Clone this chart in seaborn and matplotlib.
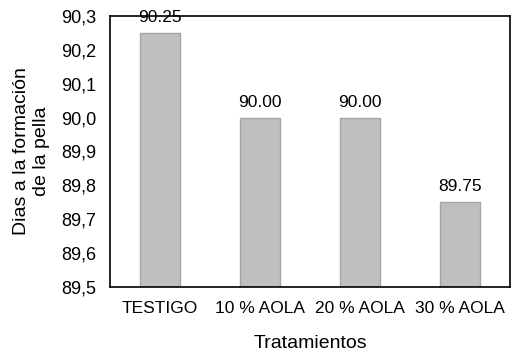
import seaborn as sns
import matplotlib.pyplot as plt
from matplotlib.ticker import FuncFormatter

tratamientos = ['TESTIGO', '10 % AOLA', '20 % AOLA', '30 % AOLA']
dias = [90.25, 90.00, 90.00, 89.75]
etiquetas = ['90.25', '90.00', '90.00', '89.75']

sns.set_style('white')
plt.rcParams['font.family'] = ['Liberation Sans', 'DejaVu Sans']
plt.rcParams['text.color'] = 'black'

fig = plt.figure(figsize=(5.23, 3.55), dpi=100)
ax = fig.add_axes([110 / 523, 1 - 287 / 355, 400 / 523, 271 / 355])

sns.barplot(x=tratamientos, y=dias, color='#bfbfbf', width=0.4,
            edgecolor='#a5a5a5', linewidth=1, ax=ax)
ax.set_ylim(89.5, 90.3)
ax.set_yticks([89.5, 89.6, 89.7, 89.8, 89.9, 90.0, 90.1, 90.2, 90.3])
ax.yaxis.set_major_formatter(FuncFormatter(lambda v, p: f'{v:.1f}'.replace('.', ',')))
ax.tick_params(axis='y', length=0, labelsize=13, colors='black', pad=10)
ax.tick_params(axis='x', length=0, labelsize=12.5, colors='black', pad=10)

# etiquetas sobre las barras (la primera queda pegada a la barra, como en Excel)
top = ax.get_ylim()[1]
for i, (v, t) in enumerate(zip(dias, etiquetas)):
    off = 0 if v + 0.05 > top else 8
    ax.annotate(t, (i, v), xytext=(0, off), textcoords='offset points',
                ha='center', va='baseline', fontsize=12.5, color='black')

for s in ax.spines.values():
    s.set_color('black')
    s.set_linewidth(1.2)

ax.set_xlabel('Tratamientos', fontsize=14, labelpad=14, color='black')
ax.set_ylabel('Dias a la formación\nde la pella', fontsize=14, labelpad=8, color='black')

fig.savefig('out.png', dpi=100)
